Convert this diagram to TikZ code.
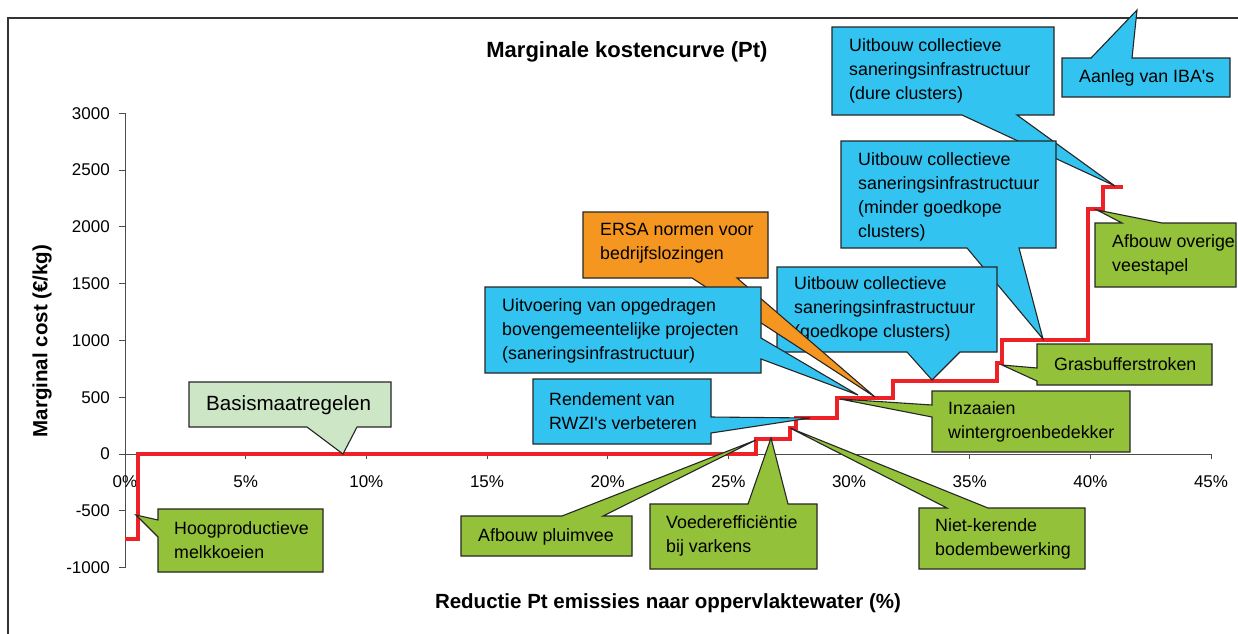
\documentclass[tikz,border=0pt]{standalone}
\usepackage{fontspec}
\setmainfont{Liberation Sans}
\definecolor{cblue}{RGB}{51,195,240}
\definecolor{cgreen}{RGB}{147,193,58}
\definecolor{clight}{RGB}{205,230,197}
\definecolor{corange}{RGB}{245,150,32}
\definecolor{cred}{RGB}{238,34,38}
\begin{document}
\begin{tikzpicture}[x=1pt,y=-1pt,
  co/.style={draw=black!85, line width=1.1pt, line join=miter},
  lbl/.style={anchor=west, align=left, inner sep=0pt, font=\fontsize{17.8}{24}\selectfont},
  ticklbl/.style={font=\fontsize{17}{20}\selectfont, inner sep=0pt},
  axtitle/.style={font=\bfseries\fontsize{20.5}{24}\selectfont, inner sep=0pt},
  axline/.style={draw=black!70, line width=1pt}]
\useasboundingbox (0,0) rectangle (1238,633);
\fill[white] (0,0) rectangle (1238,633);
% outer frame
\draw[black!80, line width=1.3pt] (8,640) -- (8,18) -- (1245,18);
% title
\node[font=\bfseries\fontsize{22}{26}\selectfont, inner sep=0pt] (title) at (627,52) {Marginale kostencurve (Pt)};
% axes
\draw[axline] (125,113) -- (125,568);
\draw[axline] (125,454) -- (1211,454);
\foreach \v in {3000,2500,2000,1500,1000,500,0,-500,-1000}{
  \draw[axline] (119,{454-\v*0.11357}) -- (125,{454-\v*0.11357});
  \node[ticklbl, anchor=east] at (110,{454-\v*0.11357}) {\v};
}
\foreach \i in {0,...,9}{
  \draw[axline] ({125+\i*120.67},454) -- ({125+\i*120.67},459);
  \pgfmathtruncatemacro{\p}{\i*5}
  \node[ticklbl] at ({125+\i*120.67},482) {\p\%};
}
\node[axtitle, rotate=90] (ytitle) at (42,341) {Marginal cost (€/kg)};
\node[axtitle] (xtitle) at (668,603) {Reductie Pt emissies naar oppervlaktewater (\%)};
% red step curve
\draw[cred, line width=3.8pt, line join=miter] (125,539) -- (138,539) -- (138,454) -- (756,454) -- (756,439) -- (790,439) -- (790,428) -- (796,428) -- (796,418) -- (837,418) -- (837,398) -- (893,398) -- (893,381) -- (997,381) -- (997,363) -- (1002,363) -- (1002,340) -- (1088,340) -- (1088,209) -- (1103,209) -- (1103,187) -- (1123,187);
% callouts
\draw[co, fill=clight] (189,382) -- (391,382) -- (391,427) -- (357,427) -- (343,454) -- (307,427) -- (189,427) -- cycle;
\node[lbl, font=\fontsize{20.6}{24}\selectfont] (basis) at (206,405) {Basismaatregelen};

\draw[co, fill=cgreen] (158,509) -- (323,509) -- (323,572) -- (158,572) -- (158,537) -- (136,515) -- (158,520) -- cycle;
\node[lbl] (hoog) at (174,540.5) {Hoogproductieve\\melkkoeien};

\draw[co, fill=cgreen] (461,516) -- (562,516) -- (756,440) -- (603,516) -- (632,516) -- (632,556) -- (461,556) -- cycle;
\node[lbl] (pluim) at (478,537) {Afbouw pluimvee};

\draw[co, fill=cgreen] (650,504) -- (748,504) -- (771,438) -- (788,504) -- (817,504) -- (817,569) -- (650,569) -- cycle;
\node[lbl] (voeder) at (666,535.5) {Voederefficiëntie\\bij varkens};

\draw[co, fill=cgreen] (919,508) -- (947,508) -- (790,428) -- (988,508) -- (1085,508) -- (1085,569) -- (919,569) -- cycle;
\node[lbl] (niet) at (935,538.5) {Niet-kerende\\bodembewerking};

\draw[co, fill=cgreen] (932,391) -- (1130,391) -- (1130,452) -- (932,452) -- (932,417) -- (840,399) -- (932,405) -- cycle;
\node[lbl] (inzaai) at (948,422) {Inzaaien\\wintergroenbedekker};

\draw[co, fill=cgreen] (1037,344) -- (1212,344) -- (1212,385) -- (1037,385) -- (1037,381) -- (1002,365) -- (1037,368) -- cycle;
\node[lbl] (gras) at (1054,364) {Grasbufferstroken};

\draw[co, fill=cgreen] (1095,223) -- (1122,223) -- (1097,210) -- (1162,223) -- (1236,223) -- (1236,287) -- (1095,287) -- cycle;
\node[lbl] (overig) at (1112,255) {Afbouw overige\\veestapel};

\draw[co, fill=cblue] (1062,58) -- (1091,58) -- (1137,10) -- (1132,58) -- (1230,58) -- (1230,97) -- (1062,97) -- cycle;
\node[lbl] (iba) at (1079,78) {Aanleg van IBA\textquotesingle s};

\draw[co, fill=cblue] (832,27) -- (1054,27) -- (1054,115) -- (1017,115) -- (1115,186) -- (962,115) -- (832,115) -- cycle;
\node[lbl] (dure) at (849,71) {Uitbouw collectieve\\saneringsinfrastructuur\\(dure clusters)};

\draw[co, fill=cblue] (841,141) -- (1056,141) -- (1056,248) -- (1019,248) -- (1043,339) -- (967,248) -- (841,248) -- cycle;
\node[lbl] (minder) at (858,197) {Uitbouw collectieve\\saneringsinfrastructuur\\(minder goedkope\\clusters)};

\draw[co, fill=cblue] (777,267) -- (997,267) -- (997,352) -- (960,352) -- (932,380) -- (907,352) -- (777,352) -- cycle;
\node[lbl] (goedkoop) at (794,309) {Uitbouw collectieve\\saneringsinfrastructuur\\(goedkope clusters)};

\draw[co, fill=corange] (583,212) -- (768,212) -- (768,278) -- (737,278) -- (875,397) -- (692,278) -- (583,278) -- cycle;
\node[lbl] (ersa) at (600,243.5) {ERSA normen voor\\bedrijfslozingen};

\draw[co, fill=cblue] (485,287) -- (761,287) -- (761,338) -- (858,395) -- (761,359) -- (761,373) -- (485,373) -- cycle;
\node[lbl] (uitvoering) at (502,331) {Uitvoering van opgedragen\\bovengemeentelijke projecten\\(saneringsinfrastructuur)};

\draw[co, fill=cblue] (533,379) -- (711,379) -- (711,417) -- (810,418) -- (711,433) -- (711,444) -- (533,444) -- cycle;
\node[lbl] (rendement) at (549,411) {Rendement van\\RWZI\textquotesingle s verbeteren};
\end{tikzpicture}
\end{document}
